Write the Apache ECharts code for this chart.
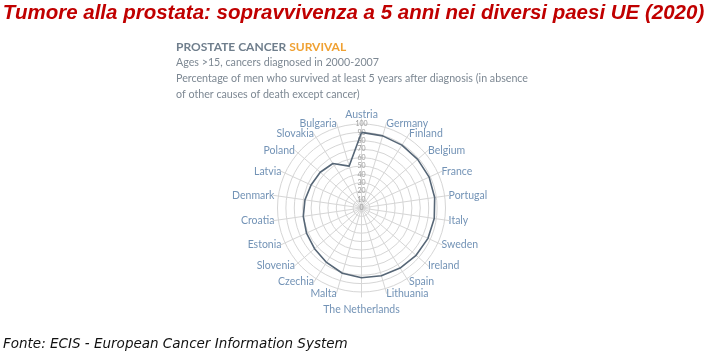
<!DOCTYPE html>
<html><head><meta charset="utf-8">
<script src="https://cdn.jsdelivr.net/npm/echarts@6/dist/echarts.min.js"></script>
<style>html,body{margin:0;padding:0;background:#fff}#c{width:707px;height:358px}</style>
</head><body><div id="c"></div>
<script>
// Clockwise from the top
const countries = ['Austria','Germany','Finland','Belgium','France','Portugal','Italy','Sweden','Ireland','Spain','Lithuania','The Netherlands','Malta','Czechia','Slovenia','Estonia','Croatia','Denmark','Latvia','Poland','Slovakia','Bulgaria'];
const survival = [90,89.5,89,88.5,88.5,88,87.5,87,86,85,84,83,81,77,74,72,70,68,66,65,63,52];
const scaleMin = 0, scaleMax = 100, scaleStep = 10;

const titleText = 'Tumore alla prostata: sopravvivenza a 5 anni nei diversi paesi UE (2020)';
const headA = 'PROSTATE CANCER ', headB = 'SURVIVAL';
const subLines = ['Ages >15, cancers diagnosed in 2000-2007',
  'Percentage of men who survived at least 5 years after diagnosis (in absence',
  'of other causes of death except cancer)'];
const sourceText = 'Fonte: ECIS - European Cancer Information System';

// ECharts radar runs counter-clockwise: keep first, reverse the rest
function cw(arr){ return [arr[0]].concat(arr.slice(1).reverse()); }
const names = cw(countries), vals = cw(survival);

const labelColor = '#7393b6';
const gridColor = '#d6d6d6';
const center = [361.5, 208];
const nameStyle = {color: labelColor, fontSize: 10.5, fontFamily: 'Lato'};

const chart = echarts.init(document.getElementById('c'), null, {renderer:'canvas'});
chart.setOption({
  animation: false,
  backgroundColor: '#fff',
  radar: [{
    center: center, radius: 84, startAngle: 90, shape: 'circle',
    splitNumber: (scaleMax - scaleMin) / scaleStep,
    indicator: names.map((n, i) => ({
      name: n, min: scaleMin, max: scaleMax,
      axisLabel: i === 0 ? {show: true, fontSize: 7, color: '#9a9a9a', margin: 0, align: 'center', verticalAlign: 'middle', fontFamily: 'Lato'} : {show: false}
    })),
    axisName: {
      color: labelColor, fontSize: 10.5, fontFamily: 'Lato',
      formatter: function (n) {
        if (n === 'The Netherlands') return '{p8|' + n + '}';
        if (n === 'Malta' || n === 'Lithuania') return '{p3|' + n + '}';
        return n;
      },
      rich: {
        p8: Object.assign({padding: [8, 0, 0, 0]}, nameStyle),
        p3: Object.assign({padding: [3, 0, 0, 0]}, nameStyle)
      }
    },
    nameGap: 4,
    axisLine: {show: false},
    axisTick: {show: false},
    axisLabel: {show: false},
    splitLine: {lineStyle: {color: gridColor, width: 1}},
    splitArea: {show: false}
  }, {
    center: center, radius: 89, startAngle: 90, shape: 'circle',
    splitNumber: 1,
    indicator: names.map(n => ({name: '', min: scaleMin, max: scaleMax})),
    axisName: {show: false},
    axisLine: {show: true, lineStyle: {color: gridColor, width: 1}},
    axisTick: {show: false},
    axisLabel: {show: false},
    splitLine: {show: false},
    splitArea: {show: false}
  }],
  series: [{
    type: 'radar', radarIndex: 0, symbol: 'none',
    lineStyle: {color: '#566676', width: 1.6},
    data: [{value: vals, name: 'Survival'}]
  }],
  graphic: [
    {type: 'text', left: 'center', top: 3, style: {text: titleText, font: 'italic bold 20.5px "Liberation Sans Narrow", "Liberation Sans", sans-serif', fill: '#c00000'}},
    {type: 'text', x: 176, y: 41, style: {text: '{a|' + headA + '}{b|' + headB + '}', rich: {
      a: {font: 'bold 12px Lato, sans-serif', fill: '#6f7e8c', color: '#6f7e8c'},
      b: {font: 'bold 12px Lato, sans-serif', fill: '#f0a132', color: '#f0a132'}}}},
    {type: 'text', x: 176, y: 57, style: {text: subLines[0], font: '10.7px Lato, sans-serif', fill: '#7d8893'}},
    {type: 'text', x: 176, y: 73, style: {text: subLines[1], font: '10.7px Lato, sans-serif', fill: '#7d8893'}},
    {type: 'text', x: 176, y: 89, style: {text: subLines[2], font: '10.7px Lato, sans-serif', fill: '#7d8893'}},
    {type: 'text', x: 3, y: 337, style: {text: sourceText, font: 'italic 13.5px "DejaVu Sans", sans-serif', fill: '#111'}}
  ]
});
</script></body></html>
